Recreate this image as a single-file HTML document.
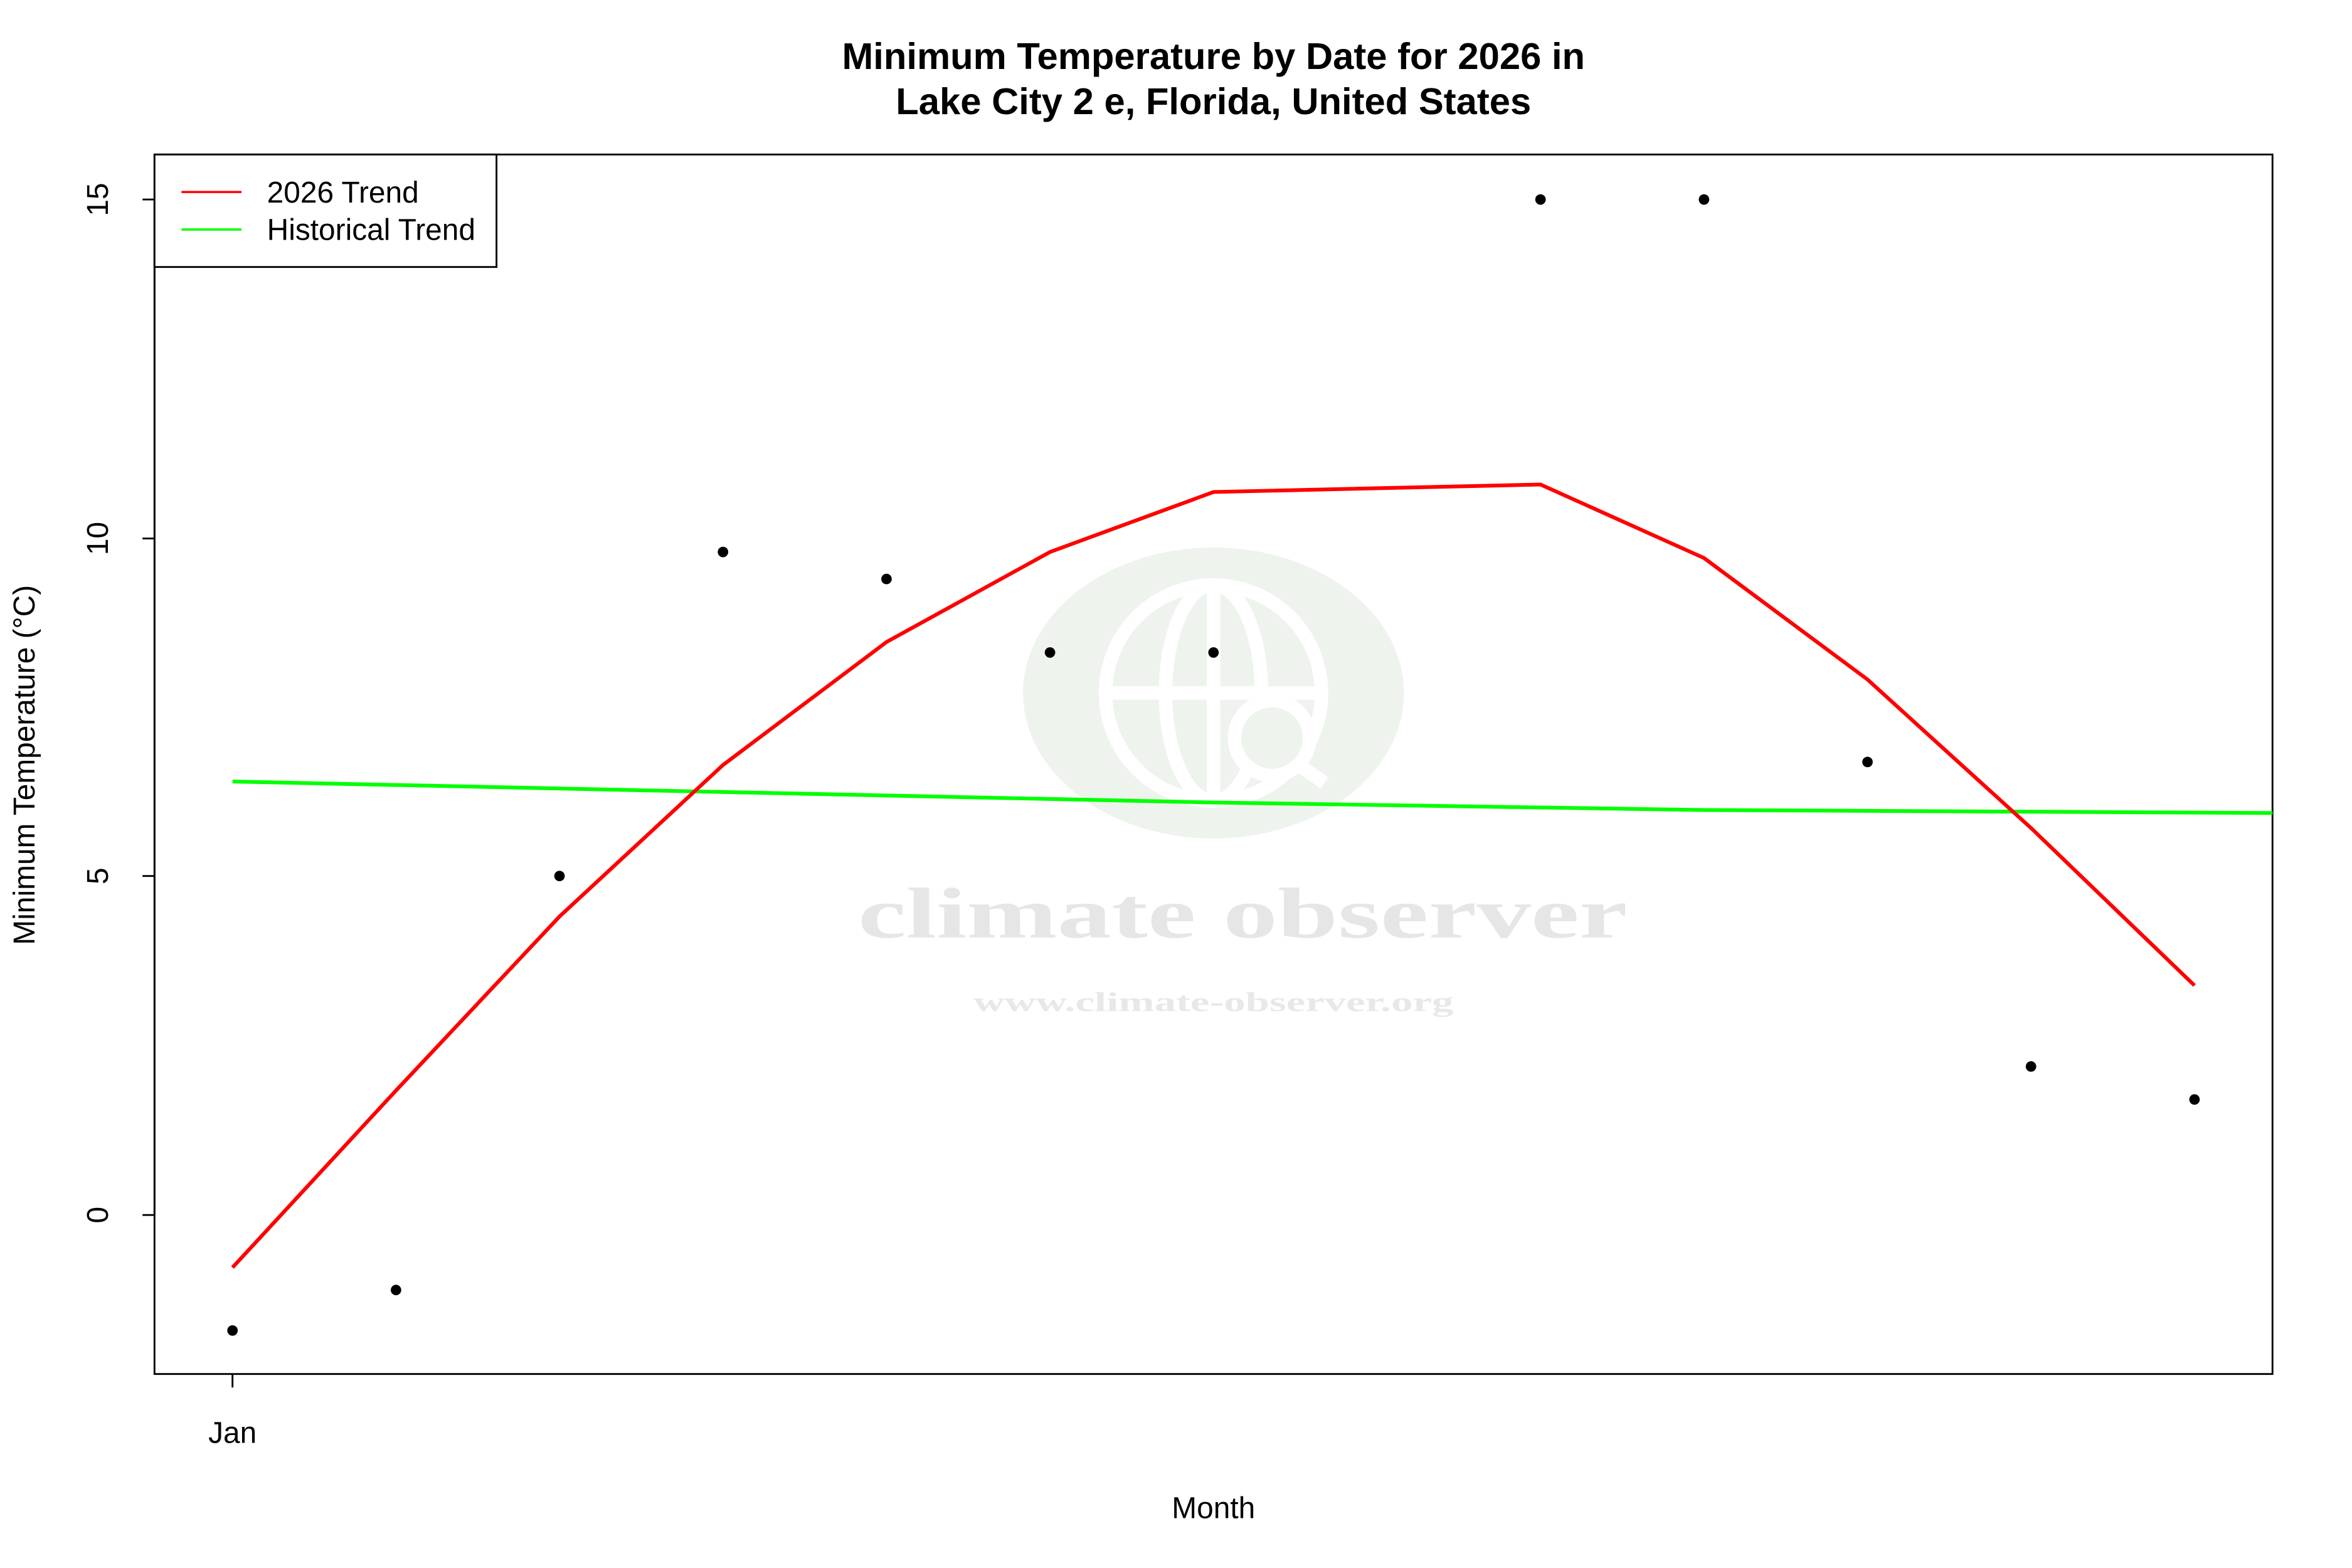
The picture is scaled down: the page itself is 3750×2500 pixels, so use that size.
<!DOCTYPE html>
<html><head><meta charset="utf-8"><style>html,body{margin:0;padding:0;background:#fff}svg{display:block}</style></head>
<body>
<svg width="3750" height="2500" viewBox="0 0 1568 1045.33" preserveAspectRatio="none" xmlns="http://www.w3.org/2000/svg" font-family="Liberation Sans, Arial, sans-serif">
<rect width="1568" height="1045.33" fill="#fff"/>
<!-- watermark -->
<ellipse cx="809" cy="462" rx="127" ry="97" fill="#eef3ee"/>
<g fill="none" stroke="#fff" stroke-width="9">
<circle cx="809" cy="462" r="72"/>
<ellipse cx="809" cy="462" rx="32" ry="72"/>
<line x1="737" y1="462" x2="881" y2="462"/>
<line x1="809" y1="390" x2="809" y2="534"/>
</g>
<circle cx="848" cy="492" r="25" fill="#eef3ee" stroke="#fff" stroke-width="9"/>
<line x1="866" y1="510" x2="883" y2="522" stroke="#fff" stroke-width="9"/>
<text x="572" y="625" textLength="513" lengthAdjust="spacingAndGlyphs" font-family="Liberation Serif, serif" font-weight="bold" font-size="48" fill="#e6e6e6">climate observer</text>
<text x="649" y="674" textLength="320" lengthAdjust="spacingAndGlyphs" font-family="Liberation Serif, serif" font-weight="bold" font-size="18" fill="#e8e8e8">www.climate-observer.org</text>
<!-- title -->
<text x="809" y="46" text-anchor="middle" font-weight="bold" font-size="25">Minimum Temperature by Date for 2026 in</text>
<text x="809" y="76" text-anchor="middle" font-weight="bold" font-size="25">Lake City 2 e, Florida, United States</text>
<!-- axes -->
<rect x="103" y="103" width="1412" height="813" fill="none" stroke="#000" stroke-width="1.2"/>
<g stroke="#000" stroke-width="1.2">
<line x1="103" y1="133" x2="103" y2="810"/>
<line x1="103" y1="133" x2="95" y2="133"/>
<line x1="103" y1="359" x2="95" y2="359"/>
<line x1="103" y1="584" x2="95" y2="584"/>
<line x1="103" y1="810" x2="95" y2="810"/>
<line x1="155" y1="916" x2="155" y2="925"/>
</g>
<g font-size="20" text-anchor="middle">
<text transform="translate(72,133) rotate(-90)">15</text>
<text transform="translate(72,359) rotate(-90)">10</text>
<text transform="translate(72,584) rotate(-90)">5</text>
<text transform="translate(72,810) rotate(-90)">0</text>
<text x="155" y="962">Jan</text>
<text x="809" y="1012">Month</text>
<text transform="translate(23,510) rotate(-90)">Minimum Temperature (°C)</text>
</g>
<!-- lines -->
<polyline fill="none" stroke="#00ff00" stroke-width="2.5" points="155,521 482,528 809,535 1136,540 1515,542"/>
<polyline fill="none" stroke="#ff0000" stroke-width="2.5" points="155,845 264,727 373,611 482,510 591,428 700,368 809,328 1027,323 1136,372 1245,453 1354,552 1463,657"/>
<g fill="#000">
<circle cx="155" cy="887" r="3.5"/><circle cx="264" cy="860" r="3.5"/><circle cx="373" cy="584" r="3.5"/>
<circle cx="482" cy="368" r="3.5"/><circle cx="591" cy="386" r="3.5"/><circle cx="700" cy="435" r="3.5"/>
<circle cx="809" cy="435" r="3.5"/><circle cx="1027" cy="133" r="3.5"/><circle cx="1136" cy="133" r="3.5"/>
<circle cx="1245" cy="508" r="3.5"/><circle cx="1354" cy="711" r="3.5"/><circle cx="1463" cy="733" r="3.5"/>
</g>
<!-- legend -->
<rect x="103" y="103" width="228" height="75" fill="#fff" stroke="#000" stroke-width="1.2"/>
<line x1="121" y1="128" x2="161" y2="128" stroke="#ff0000" stroke-width="1.5"/>
<line x1="121" y1="153" x2="161" y2="153" stroke="#00ff00" stroke-width="1.5"/>
<text x="178" y="135" font-size="20">2026 Trend</text>
<text x="178" y="160" font-size="20">Historical Trend</text>
</svg>
</body></html>
